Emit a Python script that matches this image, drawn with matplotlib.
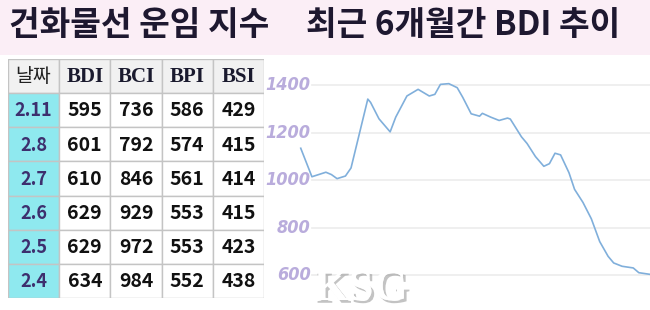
import matplotlib.pyplot as plt
import matplotlib.patheffects as pe
from matplotlib.patches import Rectangle

# Title text
title_left = '건화물선 운임 지수'
title_right = '최근 6개월간 BDI 추이'

# Table data
col_headers = ['날짜', 'BDI', 'BCI', 'BPI', 'BSI']
dates = ['2.11', '2.8', '2.7', '2.6', '2.5', '2.4']
bdi = [595, 601, 610, 629, 629, 634]
bci = [736, 792, 846, 929, 972, 984]
bpi = [586, 574, 561, 553, 553, 552]
bsi = [429, 415, 414, 415, 423, 438]

# BDI over the last 6 months (day index, value)
days = [0, 4, 9, 11, 13, 16, 18, 21, 24, 25, 28, 32, 34, 38, 42, 43, 46, 48,
        50, 53, 56, 58, 61, 64, 65, 68, 71, 74, 75, 79, 81, 84, 87, 89, 91,
        93, 96, 98, 101, 104, 107, 110, 112, 115, 119, 121, 125]
bdi_trend = [1134, 1014, 1033, 1023, 1006, 1017, 1051, 1196, 1341, 1327,
             1258, 1203, 1265, 1354, 1382, 1375, 1354, 1361, 1403, 1406,
             1389, 1348, 1279, 1269, 1281, 1265, 1251, 1261, 1257, 1182,
             1154, 1099, 1058, 1069, 1113, 1106, 1031, 961, 906, 837, 741,
             679, 651, 637, 630, 610, 603]
y_ticks = [600, 800, 1000, 1200, 1400]

W, H = 650, 310
fig = plt.figure(figsize=(6.5, 3.1), dpi=100)
fig.patch.set_facecolor('white')

# pink title band
fig.patches.append(Rectangle((0, 1 - 55 / H), 1, 55 / H, transform=fig.transFigure,
                             facecolor='#fbeef6', edgecolor='none', zorder=0))
title_kw = dict(fontsize=24, fontweight='black', color='#1e1830',
                family=['Noto Sans CJK KR', 'DejaVu Sans'], va='center')
fig.text(9 / W, 1 - 26 / H, title_left, ha='left', **title_kw)
fig.text(306 / W, 1 - 26 / H, title_right, ha='left', **title_kw)

# table
tax = fig.add_axes([8 / W, 1 - 298 / H, 256 / W, 239 / H])
tax.set_xlim(0, 5)
tax.set_ylim(7, 0)
tax.axis('off')
border = '#c4c4c4'
for c, head in enumerate(col_headers):
    tax.add_patch(Rectangle((c, 0), 1, 1, facecolor='#f1f1f1', edgecolor=border, lw=1))
    if c == 0:
        tax.text(c + 0.5, 0.52, head, ha='center', va='center', fontsize=14,
                 family='Noto Sans CJK KR', color='#222222')
    else:
        tax.text(c + 0.5, 0.54, head, ha='center', va='center', fontsize=15,
                 family='Liberation Serif', fontweight='bold', color='#1a1a2e')
rows = list(zip(dates, bdi, bci, bpi, bsi))
for r, row in enumerate(rows):
    y = r + 1
    tax.add_patch(Rectangle((0, y), 1, 1, facecolor='#8fe9ef', edgecolor=border, lw=1))
    tax.text(0.5, y + 0.52, row[0], ha='center', va='center', fontsize=13,
             family='Noto Sans CJK KR', fontweight='bold', color='#3d2f6e')
    for c in range(1, 5):
        tax.add_patch(Rectangle((c, y), 1, 1, facecolor='white', edgecolor=border, lw=1))
        tax.text(c + 0.5, y + 0.52, str(row[c]), ha='center', va='center', fontsize=14,
                 family='Noto Sans CJK KR', fontweight='bold', color='#111111')

# line chart
ax = fig.add_axes([270 / W, 1 - 300 / H, 380 / W, 242 / H])
ax.set_xlim(-11, 125)
ax.set_ylim(495, 1514)
ax.axis('off')
for v in y_ticks:
    ax.axhline(v, xmin=0.11, xmax=1, color='#ececec', lw=1.2, zorder=1)
    ax.text(0.107, v, str(v), transform=ax.get_yaxis_transform(), ha='right', va='center',
            fontsize=13, family='DejaVu Sans', fontstretch='condensed', fontweight='bold',
            style='oblique', color='#b9acdc', zorder=2)
ax.plot(days, bdi_trend, color='#80afdb', lw=1.2, zorder=3, solid_joinstyle='round')

# watermark
fig.text(314 / W, 1 - 289 / H, 'KSG', fontsize=32, family='Liberation Serif',
         fontweight='bold', color='white', va='center', ha='left', zorder=5,
         path_effects=[pe.withSimplePatchShadow(offset=(2, -2), shadow_rgbFace='#888888', alpha=0.5),
                       pe.Normal()])

fig.savefig('out.png', dpi=100)
